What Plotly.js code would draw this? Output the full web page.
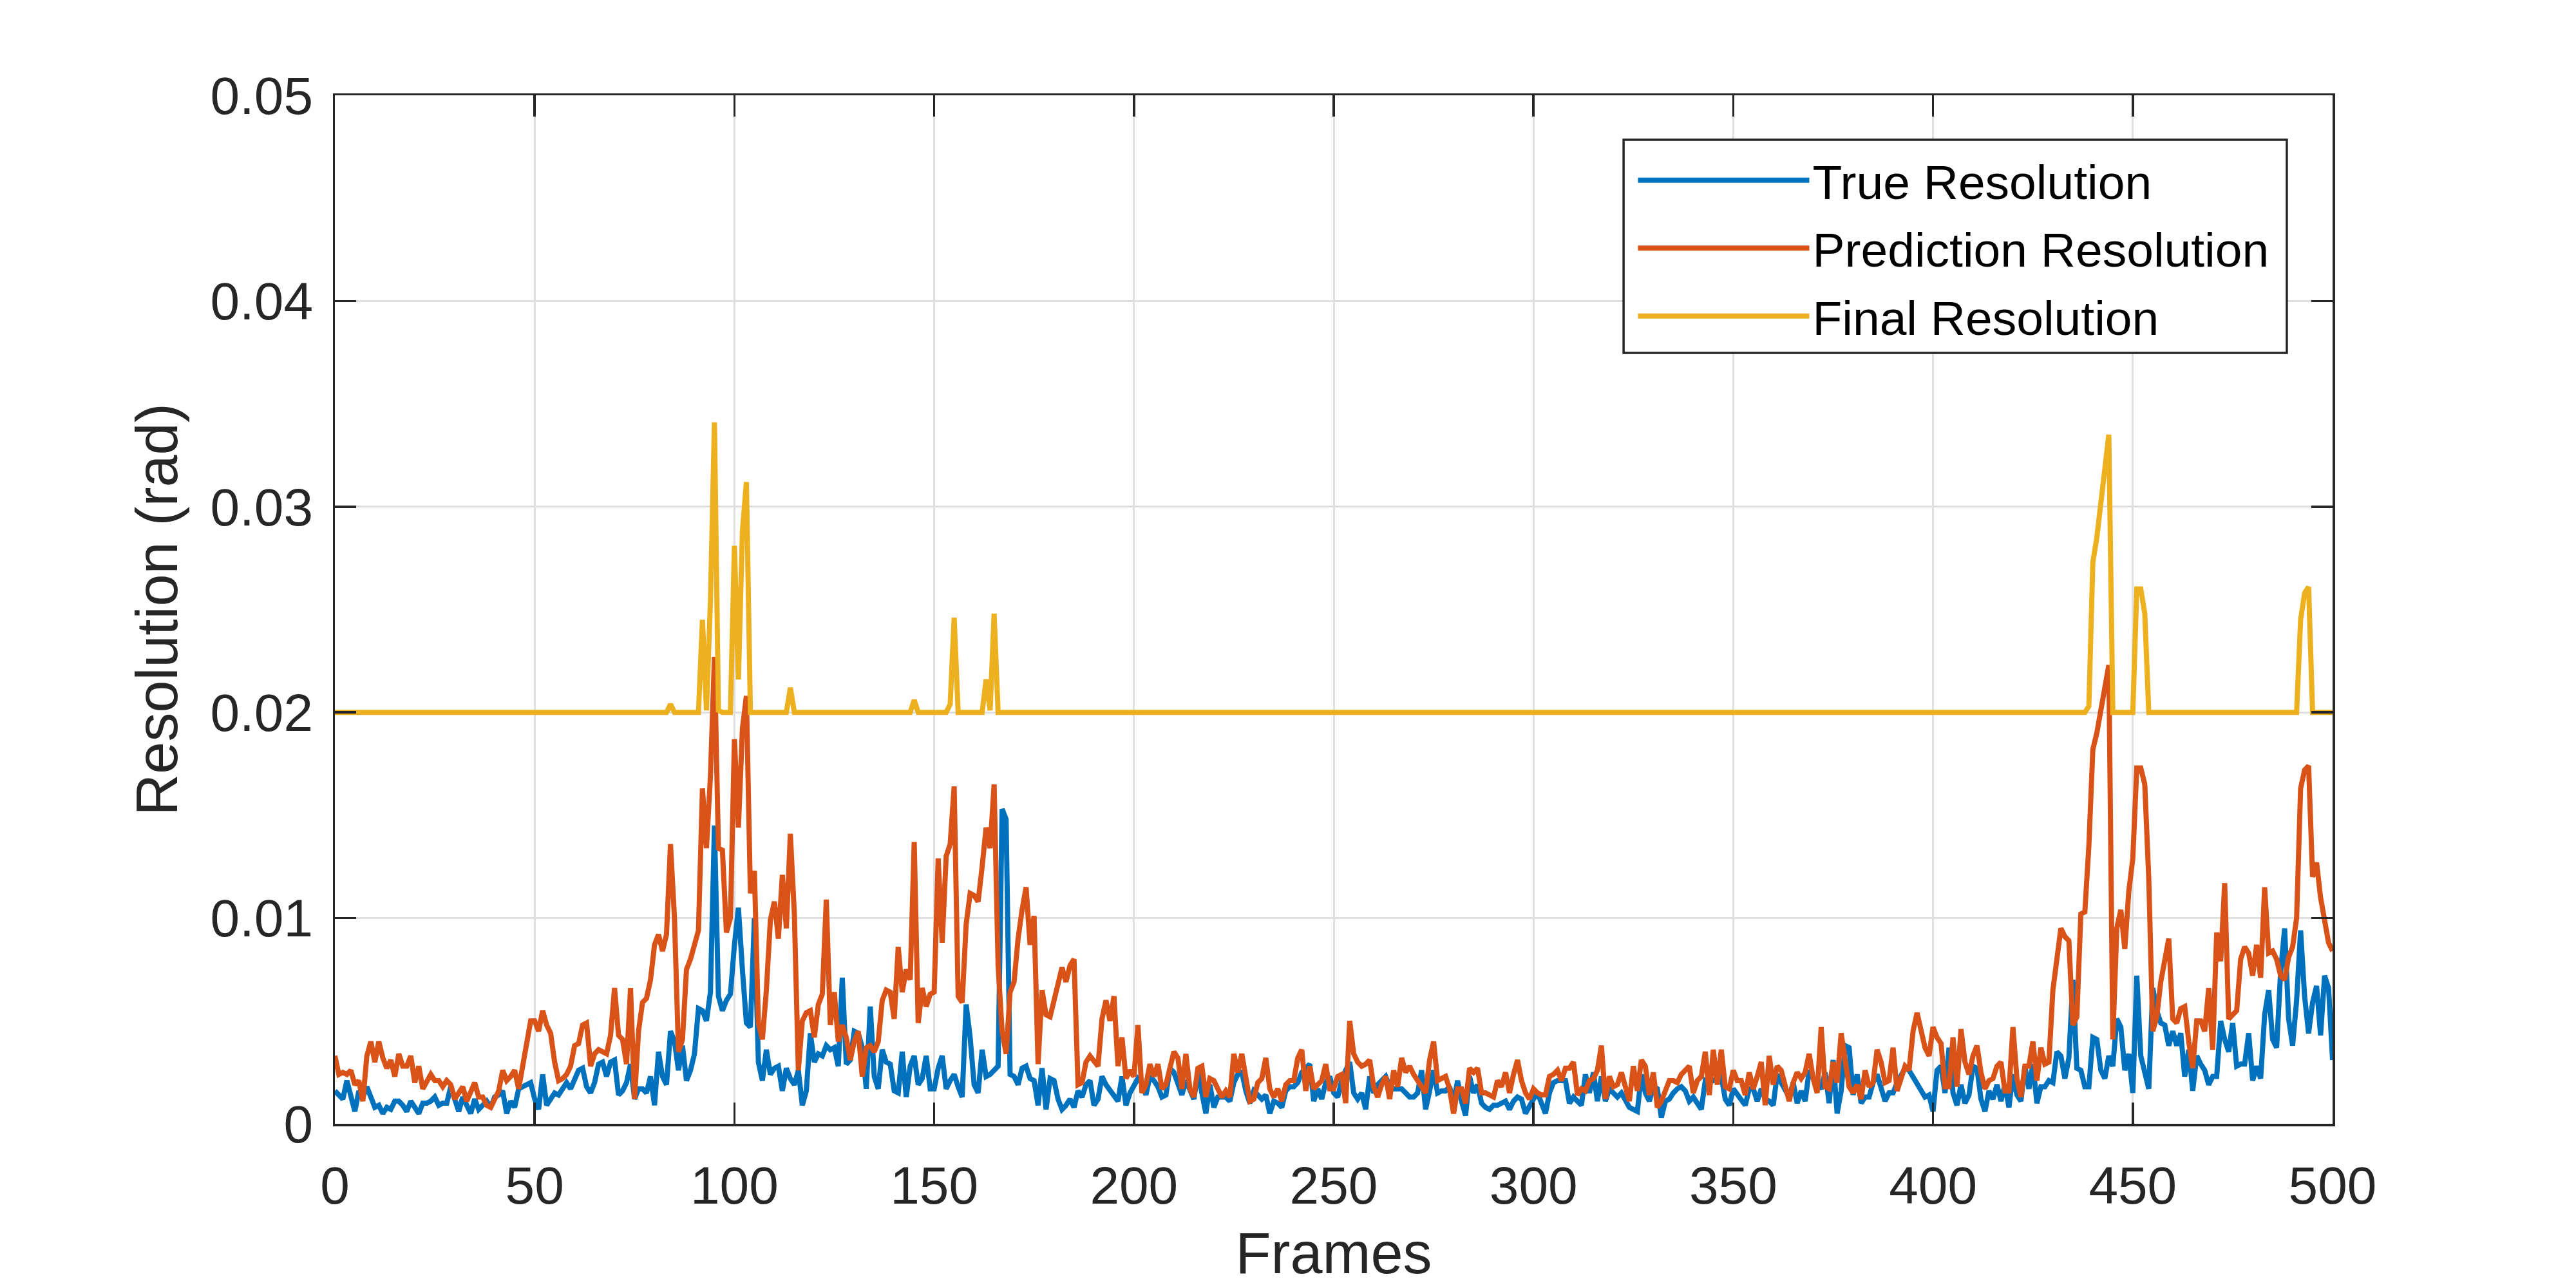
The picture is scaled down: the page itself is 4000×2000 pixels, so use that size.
<!DOCTYPE html>
<html>
<head>
<meta charset="utf-8">
<script src="https://cdn.plot.ly/plotly-3.0.1.min.js"></script>
<style>html,body{margin:0;padding:0;background:#fff;}#chart{width:4000px;height:2000px;}</style>
</head>
<body>
<div id="chart"></div>
<script>
// ---- data ----
const seriesNames = ["True Resolution", "Prediction Resolution", "Final Resolution"];
const seriesColors = ["#0072BD", "#D95319", "#EDB120"];
const frameStart = 0;
const xTickValues = [0, 50, 100, 150, 200, 250, 300, 350, 400, 450, 500];
const yTickValues = [0, 0.01, 0.02, 0.03, 0.04, 0.05];
const yTickLabels = ["0", "0.01", "0.02", "0.03", "0.04", "0.05"];

const trueResolution = [
0.0016,0.0014,0.0012,0.0021,0.0014,0.0006,0.0016,0.0013,0.0018,0.0013,
0.0008,0.0009,0.0005,0.0008,0.0007,0.0011,0.0011,0.0009,0.0006,0.0011,
0.0008,0.0005,0.0010,0.0010,0.0011,0.0013,0.0009,0.0010,0.0010,0.0018,
0.0012,0.0006,0.0013,0.0009,0.0005,0.0012,0.0007,0.0009,0.0011,0.0008,
0.0013,0.0014,0.0016,0.0005,0.0011,0.0008,0.0017,0.0018,0.0019,0.0020,
0.0012,0.0007,0.0024,0.0009,0.0012,0.0015,0.0014,0.0017,0.0020,0.0017,
0.0022,0.0026,0.0027,0.0018,0.0015,0.0020,0.0029,0.0030,0.0023,0.0030,
0.0031,0.0014,0.0016,0.0020,0.0029,0.0012,0.0017,0.0017,0.0015,0.0023,
0.0009,0.0035,0.0023,0.0019,0.0045,0.0040,0.0026,0.0038,0.0021,0.0026,
0.0034,0.0056,0.0055,0.0050,0.0064,0.0145,0.0062,0.0055,0.0060,0.0063,
0.0087,0.0105,0.0075,0.0049,0.0047,0.0100,0.0030,0.0021,0.0036,0.0024,
0.0027,0.0028,0.0016,0.0027,0.0022,0.0019,0.0026,0.0009,0.0016,0.0044,
0.0030,0.0034,0.0033,0.0038,0.0036,0.0037,0.0028,0.0071,0.0029,0.0031,
0.0045,0.0044,0.0037,0.0017,0.0057,0.0023,0.0017,0.0036,0.0030,0.0029,
0.0016,0.0015,0.0035,0.0013,0.0028,0.0033,0.0019,0.0022,0.0033,0.0017,
0.0017,0.0027,0.0033,0.0017,0.0021,0.0024,0.0018,0.0013,0.0058,0.0042,
0.0019,0.0015,0.0036,0.0023,0.0024,0.0026,0.0028,0.0153,0.0148,0.0024,
0.0023,0.0019,0.0027,0.0028,0.0022,0.0021,0.0009,0.0027,0.0007,0.0022,
0.0021,0.0012,0.0007,0.0009,0.0012,0.0008,0.0016,0.0013,0.0019,0.0021,
0.0009,0.0012,0.0023,0.0019,0.0016,0.0013,0.0011,0.0023,0.0009,0.0015,
0.0019,0.0022,0.0020,0.0014,0.0023,0.0021,0.0018,0.0013,0.0014,0.0027,
0.0025,0.0020,0.0014,0.0021,0.0017,0.0012,0.0025,0.0014,0.0005,0.0019,
0.0008,0.0013,0.0013,0.0013,0.0011,0.0020,0.0024,0.0025,0.0016,0.0010,
0.0016,0.0014,0.0012,0.0014,0.0005,0.0011,0.0010,0.0008,0.0016,0.0018,
0.0018,0.0020,0.0025,0.0027,0.0029,0.0011,0.0017,0.0012,0.0020,0.0023,
0.0015,0.0013,0.0021,0.0026,0.0030,0.0015,0.0012,0.0015,0.0007,0.0023,
0.0015,0.0019,0.0021,0.0023,0.0018,0.0017,0.0017,0.0017,0.0015,0.0013,
0.0013,0.0015,0.0026,0.0007,0.0016,0.0026,0.0015,0.0016,0.0016,0.0018,
0.0010,0.0021,0.0011,0.0004,0.0023,0.0015,0.0019,0.0010,0.0008,0.0007,
0.0009,0.0009,0.0010,0.0011,0.0007,0.0011,0.0013,0.0012,0.0005,0.0009,
0.0012,0.0015,0.0010,0.0005,0.0015,0.0020,0.0021,0.0021,0.0021,0.0010,
0.0013,0.0011,0.0009,0.0024,0.0015,0.0025,0.0011,0.0023,0.0011,0.0017,
0.0015,0.0013,0.0015,0.0012,0.0008,0.0007,0.0006,0.0024,0.0015,0.0011,
0.0018,0.0017,0.0003,0.0011,0.0012,0.0015,0.0017,0.0018,0.0016,0.0011,
0.0013,0.0010,0.0007,0.0021,0.0020,0.0021,0.0022,0.0023,0.0012,0.0009,
0.0017,0.0014,0.0011,0.0009,0.0017,0.0017,0.0011,0.0017,0.0012,0.0011,
0.0009,0.0024,0.0020,0.0016,0.0013,0.0020,0.0010,0.0016,0.0011,0.0026,
0.0022,0.0019,0.0017,0.0025,0.0010,0.0031,0.0005,0.0016,0.0038,0.0037,
0.0014,0.0024,0.0010,0.0013,0.0013,0.0020,0.0024,0.0018,0.0011,0.0015,
0.0015,0.0020,0.0024,0.0027,0.0026,0.0023,0.0020,0.0016,0.0013,0.0014,
0.0006,0.0026,0.0028,0.0015,0.0037,0.0015,0.0009,0.0019,0.0010,0.0014,
0.0028,0.0027,0.0012,0.0006,0.0016,0.0012,0.0019,0.0011,0.0019,0.0008,
0.0024,0.0014,0.0011,0.0028,0.0017,0.0029,0.0010,0.0018,0.0018,0.0021,
0.0020,0.0035,0.0033,0.0022,0.0032,0.0070,0.0027,0.0026,0.0018,0.0018,
0.0042,0.0041,0.0026,0.0022,0.0033,0.0028,0.0051,0.0047,0.0026,0.0034,
0.0015,0.0072,0.0033,0.0025,0.0017,0.0066,0.0055,0.0049,0.0048,0.0038,
0.0045,0.0038,0.0044,0.0023,0.0036,0.0016,0.0033,0.0029,0.0026,0.0019,
0.0023,0.0023,0.0050,0.0041,0.0035,0.0049,0.0028,0.0029,0.0029,0.0044,
0.0021,0.0028,0.0022,0.0053,0.0065,0.0041,0.0037,0.0074,0.0095,0.0051,
0.0038,0.0060,0.0094,0.0062,0.0044,0.0059,0.0067,0.0043,0.0072,0.0066,
0.0031];

const predictionResolution = [
0.0033,0.0024,0.0025,0.0024,0.0026,0.0019,0.0021,0.0011,0.0033,0.0040,
0.0030,0.0040,0.0032,0.0027,0.0031,0.0023,0.0034,0.0028,0.0028,0.0033,
0.0020,0.0028,0.0017,0.0021,0.0024,0.0021,0.0021,0.0018,0.0021,0.0019,
0.0012,0.0015,0.0018,0.0011,0.0016,0.0020,0.0013,0.0013,0.0009,0.0008,
0.0012,0.0016,0.0026,0.0021,0.0023,0.0026,0.0017,0.0028,0.0042,0.0050,
0.0050,0.0045,0.0055,0.0048,0.0044,0.0030,0.0021,0.0022,0.0024,0.0028,
0.0038,0.0039,0.0048,0.0049,0.0028,0.0034,0.0036,0.0035,0.0034,0.0043,
0.0066,0.0043,0.0041,0.0029,0.0066,0.0012,0.0045,0.0059,0.0061,0.0070,
0.0087,0.0092,0.0084,0.0092,0.0136,0.0100,0.0035,0.0041,0.0075,0.0080,
0.0087,0.0094,0.0163,0.0134,0.0169,0.0227,0.0134,0.0133,0.0093,0.0100,
0.0187,0.0144,0.0192,0.0208,0.0112,0.0123,0.0049,0.0041,0.0065,0.0099,
0.0108,0.0090,0.0121,0.0095,0.0141,0.0102,0.0026,0.0050,0.0054,0.0055,
0.0042,0.0058,0.0063,0.0109,0.0048,0.0064,0.0040,0.0048,0.0042,0.0031,
0.0040,0.0045,0.0023,0.0037,0.0038,0.0035,0.0040,0.0060,0.0065,0.0064,
0.0051,0.0086,0.0064,0.0075,0.0070,0.0137,0.0049,0.0066,0.0057,0.0063,
0.0064,0.0129,0.0088,0.0130,0.0136,0.0164,0.0062,0.0059,0.0097,0.0112,
0.0111,0.0108,0.0125,0.0144,0.0134,0.0165,0.0077,0.0045,0.0034,0.0064,
0.0069,0.0090,0.0104,0.0115,0.0087,0.0101,0.0029,0.0065,0.0053,0.0052,
0.0060,0.0068,0.0076,0.0069,0.0077,0.0080,0.0019,0.0020,0.0030,0.0033,
0.0030,0.0028,0.0051,0.0060,0.0050,0.0062,0.0028,0.0042,0.0022,0.0026,
0.0023,0.0048,0.0015,0.0019,0.0029,0.0023,0.0029,0.0017,0.0019,0.0028,
0.0035,0.0032,0.0017,0.0034,0.0017,0.0013,0.0027,0.0028,0.0013,0.0022,
0.0021,0.0017,0.0013,0.0016,0.0013,0.0034,0.0025,0.0034,0.0022,0.0011,
0.0012,0.0020,0.0022,0.0032,0.0017,0.0013,0.0017,0.0011,0.0019,0.0021,
0.0021,0.0032,0.0036,0.0016,0.0028,0.0017,0.0019,0.0021,0.0029,0.0017,
0.0017,0.0023,0.0024,0.0010,0.0050,0.0034,0.0030,0.0028,0.0029,0.0031,
0.0018,0.0013,0.0019,0.0023,0.0012,0.0026,0.0018,0.0032,0.0025,0.0028,
0.0024,0.0021,0.0019,0.0015,0.0031,0.0040,0.0021,0.0022,0.0023,0.0017,
0.0005,0.0017,0.0017,0.0010,0.0027,0.0025,0.0027,0.0015,0.0015,0.0014,
0.0013,0.0021,0.0018,0.0025,0.0015,0.0024,0.0031,0.0021,0.0015,0.0012,
0.0017,0.0015,0.0014,0.0014,0.0023,0.0024,0.0026,0.0021,0.0027,0.0027,
0.0030,0.0014,0.0017,0.0016,0.0021,0.0022,0.0026,0.0038,0.0012,0.0023,
0.0018,0.0019,0.0025,0.0018,0.0011,0.0028,0.0016,0.0031,0.0028,0.0014,
0.0025,0.0008,0.0011,0.0016,0.0021,0.0021,0.0020,0.0024,0.0026,0.0028,
0.0015,0.0021,0.0023,0.0035,0.0014,0.0036,0.0019,0.0036,0.0018,0.0017,
0.0026,0.0021,0.0021,0.0014,0.0025,0.0017,0.0023,0.0030,0.0009,0.0033,
0.0019,0.0028,0.0026,0.0018,0.0011,0.0020,0.0025,0.0022,0.0025,0.0034,
0.0022,0.0015,0.0047,0.0018,0.0017,0.0030,0.0020,0.0044,0.0030,0.0018,
0.0015,0.0019,0.0012,0.0026,0.0018,0.0020,0.0036,0.0030,0.0020,0.0021,
0.0037,0.0016,0.0022,0.0028,0.0026,0.0045,0.0054,0.0044,0.0037,0.0033,
0.0047,0.0042,0.0039,0.0018,0.0018,0.0042,0.0018,0.0046,0.0030,0.0024,
0.0033,0.0038,0.0025,0.0017,0.0021,0.0022,0.0028,0.0030,0.0016,0.0016,
0.0047,0.0022,0.0013,0.0028,0.0028,0.0040,0.0021,0.0037,0.0029,0.0030,
0.0065,0.0080,0.0095,0.0091,0.0089,0.0048,0.0052,0.0102,0.0103,0.0135,
0.0182,0.0190,0.0201,0.0211,0.0223,0.0041,0.0095,0.0104,0.0085,0.0113,
0.0129,0.0173,0.0173,0.0165,0.0119,0.0045,0.0052,0.0069,0.0080,0.0090,
0.0051,0.0049,0.0056,0.0057,0.0040,0.0027,0.0050,0.0050,0.0045,0.0066,
0.0036,0.0093,0.0079,0.0117,0.0051,0.0053,0.0055,0.0080,0.0086,0.0083,
0.0072,0.0087,0.0071,0.0115,0.0083,0.0084,0.0080,0.0072,0.0070,0.0081,
0.0086,0.0100,0.0163,0.0172,0.0174,0.0120,0.0127,0.0110,0.0097,0.0088,
0.0084];

const finalResolution = [
0.02,0.02,0.02,0.02,0.02,0.02,0.02,0.02,0.02,0.02,
0.02,0.02,0.02,0.02,0.02,0.02,0.02,0.02,0.02,0.02,
0.02,0.02,0.02,0.02,0.02,0.02,0.02,0.02,0.02,0.02,
0.02,0.02,0.02,0.02,0.02,0.02,0.02,0.02,0.02,0.02,
0.02,0.02,0.02,0.02,0.02,0.02,0.02,0.02,0.02,0.02,
0.02,0.02,0.02,0.02,0.02,0.02,0.02,0.02,0.02,0.02,
0.02,0.02,0.02,0.02,0.02,0.02,0.02,0.02,0.02,0.02,
0.02,0.02,0.02,0.02,0.02,0.02,0.02,0.02,0.02,0.02,
0.02,0.02,0.02,0.02,0.0204,0.02,0.02,0.02,0.02,0.02,
0.02,0.02,0.0245,0.0201,0.0254,0.0341,0.0201,0.02,0.02,0.02,
0.0281,0.0216,0.0288,0.0312,0.02,0.02,0.02,0.02,0.02,0.02,
0.02,0.02,0.02,0.02,0.0212,0.02,0.02,0.02,0.02,0.02,
0.02,0.02,0.02,0.02,0.02,0.02,0.02,0.02,0.02,0.02,
0.02,0.02,0.02,0.02,0.02,0.02,0.02,0.02,0.02,0.02,
0.02,0.02,0.02,0.02,0.02,0.0206,0.02,0.02,0.02,0.02,
0.02,0.02,0.02,0.02,0.0204,0.0246,0.02,0.02,0.02,0.02,
0.02,0.02,0.02,0.0216,0.0201,0.0248,0.02,0.02,0.02,0.02,
0.02,0.02,0.02,0.02,0.02,0.02,0.02,0.02,0.02,0.02,
0.02,0.02,0.02,0.02,0.02,0.02,0.02,0.02,0.02,0.02,
0.02,0.02,0.02,0.02,0.02,0.02,0.02,0.02,0.02,0.02,
0.02,0.02,0.02,0.02,0.02,0.02,0.02,0.02,0.02,0.02,
0.02,0.02,0.02,0.02,0.02,0.02,0.02,0.02,0.02,0.02,
0.02,0.02,0.02,0.02,0.02,0.02,0.02,0.02,0.02,0.02,
0.02,0.02,0.02,0.02,0.02,0.02,0.02,0.02,0.02,0.02,
0.02,0.02,0.02,0.02,0.02,0.02,0.02,0.02,0.02,0.02,
0.02,0.02,0.02,0.02,0.02,0.02,0.02,0.02,0.02,0.02,
0.02,0.02,0.02,0.02,0.02,0.02,0.02,0.02,0.02,0.02,
0.02,0.02,0.02,0.02,0.02,0.02,0.02,0.02,0.02,0.02,
0.02,0.02,0.02,0.02,0.02,0.02,0.02,0.02,0.02,0.02,
0.02,0.02,0.02,0.02,0.02,0.02,0.02,0.02,0.02,0.02,
0.02,0.02,0.02,0.02,0.02,0.02,0.02,0.02,0.02,0.02,
0.02,0.02,0.02,0.02,0.02,0.02,0.02,0.02,0.02,0.02,
0.02,0.02,0.02,0.02,0.02,0.02,0.02,0.02,0.02,0.02,
0.02,0.02,0.02,0.02,0.02,0.02,0.02,0.02,0.02,0.02,
0.02,0.02,0.02,0.02,0.02,0.02,0.02,0.02,0.02,0.02,
0.02,0.02,0.02,0.02,0.02,0.02,0.02,0.02,0.02,0.02,
0.02,0.02,0.02,0.02,0.02,0.02,0.02,0.02,0.02,0.02,
0.02,0.02,0.02,0.02,0.02,0.02,0.02,0.02,0.02,0.02,
0.02,0.02,0.02,0.02,0.02,0.02,0.02,0.02,0.02,0.02,
0.02,0.02,0.02,0.02,0.02,0.02,0.02,0.02,0.02,0.02,
0.02,0.02,0.02,0.02,0.02,0.02,0.02,0.02,0.02,0.02,
0.02,0.02,0.02,0.02,0.02,0.02,0.02,0.02,0.02,0.02,
0.02,0.02,0.02,0.02,0.02,0.02,0.02,0.02,0.02,0.02,
0.02,0.02,0.02,0.02,0.02,0.02,0.02,0.02,0.02,0.0203,
0.0273,0.0285,0.0301,0.0316,0.0335,0.02,0.02,0.02,0.02,0.02,
0.02,0.0260,0.0260,0.0248,0.02,0.02,0.02,0.02,0.02,0.02,
0.02,0.02,0.02,0.02,0.02,0.02,0.02,0.02,0.02,0.02,
0.02,0.02,0.02,0.02,0.02,0.02,0.02,0.02,0.02,0.02,
0.02,0.02,0.02,0.02,0.02,0.02,0.02,0.02,0.02,0.02,
0.02,0.02,0.0245,0.0258,0.0261,0.02,0.02,0.02,0.02,0.02,
0.02];

const seriesValues = [trueResolution, predictionResolution, finalResolution];

// ---- figure ----
const AXIS = '#262626';
const traces = seriesValues.map((vals, i) => ({
  type: 'scatter',
  mode: 'lines',
  name: seriesNames[i],
  legendgroup: 'g' + i,
  x0: frameStart,
  dx: 1,
  y: vals,
  line: { color: seriesColors[i], width: 8, shape: 'linear' },
  hoverinfo: 'skip'
}));

const layout = {
  width: 4000,
  height: 2000,
  margin: { l: 520, r: 378, t: 148, b: 255, pad: 0, autoexpand: false },
  paper_bgcolor: '#ffffff',
  plot_bgcolor: '#ffffff',
  font: { family: '"Liberation Sans", Arial, Helvetica, sans-serif', size: 82, color: AXIS },
  showlegend: true,
  xaxis: {
    range: [0, 500],
    tickmode: 'array',
    tickvals: xTickValues,
    ticktext: xTickValues.map(String),
    ticks: 'inside',
    ticklen: 33,
    tickwidth: 3.5,
    tickcolor: AXIS,
    showline: true,
    linecolor: AXIS,
    linewidth: 3.5,
    mirror: 'ticks',
    showgrid: true,
    gridcolor: '#dfdfdf',
    gridwidth: 3,
    zeroline: false,
    automargin: false,
    tickfont: { size: 82, color: AXIS },
    ticklabelstandoff: 22,
    title: { text: 'Frames', font: { size: 90, color: AXIS }, standoff: 30 }
  },
  yaxis: {
    range: [0, 0.05],
    tickmode: 'array',
    tickvals: yTickValues,
    ticktext: yTickLabels,
    ticks: 'inside',
    ticklen: 33,
    tickwidth: 3.5,
    tickcolor: AXIS,
    showline: true,
    linecolor: AXIS,
    linewidth: 3.5,
    mirror: 'ticks',
    showgrid: true,
    gridcolor: '#dfdfdf',
    gridwidth: 3,
    zeroline: false,
    automargin: false,
    tickfont: { size: 82, color: AXIS },
    ticklabelstandoff: 14,
    title: { text: 'Resolution (rad)', font: { size: 90, color: AXIS }, standoff: 22 }
  },
  // legend frame (white box with dark border), drawn under the legend entries
  shapes: [{
    type: 'rect',
    xref: 'paper', yref: 'paper',
    x0: 0.6451, x1: 0.9771,
    y0: 0.7495, y1: 0.9568,
    line: { color: AXIS, width: 3.5 },
    fillcolor: '#ffffff',
    layer: 'above'
  }],
  legend: {
    x: 0.6507,
    y: 0.9521,
    xanchor: 'left',
    yanchor: 'top',
    bgcolor: 'rgba(0,0,0,0)',
    borderwidth: 0,
    font: { size: 75, color: '#000000' },
    itemwidth: 266,
    traceorder: 'grouped',
    tracegroupgap: 5
  }
};

Plotly.newPlot('chart', traces, layout, { displayModeBar: false, staticPlot: true });
</script>
</body>
</html>
